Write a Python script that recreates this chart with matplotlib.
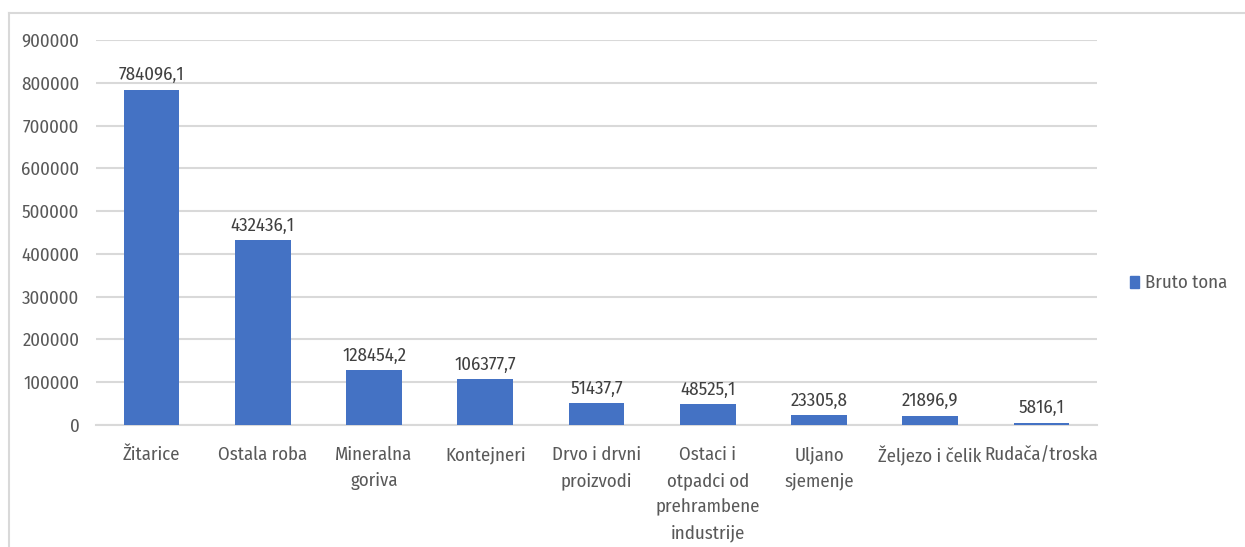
import matplotlib
matplotlib.use("Agg")
import matplotlib.pyplot as plt
from matplotlib import font_manager as fm
from matplotlib.lines import Line2D
from matplotlib.patches import Patch

categories = ["Žitarice", "Ostala roba", "Mineralna\ngoriva", "Kontejneri",
              "Drvo i drvni\nproizvodi", "Ostaci i\notpadci od\nprehrambene\nindustrije",
              "Uljano\nsjemenje", "Željezo i čelik", "Rudača/troska"]
values = [784096.1, 432436.1, 128454.2, 106377.7, 51437.7, 48525.1, 23305.8, 21896.9, 5816.1]
labels = ["784096,1", "432436,1", "128454,2", "106377,7", "51437,7", "48525,1", "23305,8", "21896,9", "5816,1"]
yticks = [0, 100000, 200000, 300000, 400000, 500000, 600000, 700000, 800000, 900000]
series_name = "Bruto tona"

avail = {f.name for f in fm.fontManager.ttflist}
fam = [f for f in ["Fira Sans Condensed", "Roboto Condensed", "Open Sans", "DejaVu Sans"] if f in avail]
plt.rcParams['font.family'] = fam
FS = 13.5

W, H = 1245, 547
fig = plt.figure(figsize=(W/100, H/100), dpi=100)
ax = fig.add_axes([96/W, 1 - 425/H, (1097-96)/W, (425-40)/H])

bar_color = "#4472C4"
x = list(range(len(categories)))
ax.bar(x, values, width=0.5, color=bar_color, zorder=3)
ax.set_xlim(-0.5, len(categories) - 0.5)
ax.set_ylim(0, 900000)
ax.set_yticks(yticks)
ax.set_yticklabels([str(v) for v in yticks])
ax.set_xticks(x)
ax.set_xticklabels(categories, linespacing=1.6, va="top")
ax.tick_params(axis="both", length=0, labelsize=FS, colors="#595959")
ax.tick_params(axis="x", pad=15)
ax.tick_params(axis="y", pad=12)
ax.grid(axis="y", color="#D9D9D9", linewidth=1.5, zorder=0)
for s in ["top", "right", "left"]:
    ax.spines[s].set_visible(False)
ax.spines["bottom"].set_color("#D9D9D9")
ax.spines["bottom"].set_linewidth(1.5)

for xi, v, lab in zip(x, values, labels):
    ax.annotate(lab, (xi, v), xytext=(0, 4), textcoords="offset points",
                ha="center", va="bottom", fontsize=FS, color="#404040")

handle = Patch(color=bar_color)
fig.legend([handle], [series_name], loc="center left", bbox_to_anchor=(1113/W, 1 - 283/H),
           frameon=False, fontsize=FS, handlelength=0.5, handleheight=0.6,
           handletextpad=0.3, labelcolor="#595959")

# outer chart border (left and top visible)
fig.add_artist(Line2D([9/W, 9/W], [0, 1 - 13/H], transform=fig.transFigure, color="#D9D9D9", lw=1.5))
fig.add_artist(Line2D([9/W, 1], [1 - 13/H, 1 - 13/H], transform=fig.transFigure, color="#D9D9D9", lw=1.5))

fig.savefig("out.png", dpi=100)
